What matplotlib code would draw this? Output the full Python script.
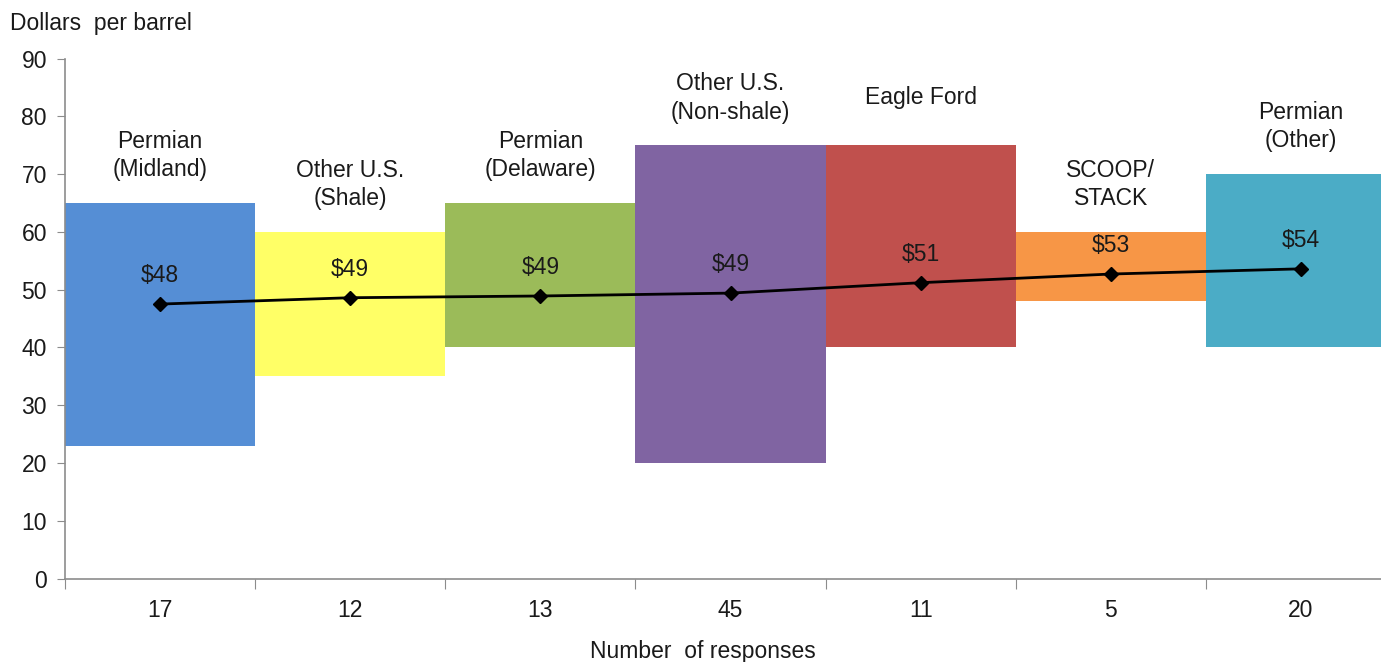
import matplotlib.pyplot as plt
import numpy as np

plt.rcParams['font.family'] = ['Liberation Sans', 'DejaVu Sans']

# price ranges by region (dollars per barrel)
regions = ['Permian\n(Midland)', 'Other U.S.\n(Shale)', 'Permian\n(Delaware)',
           'Other U.S.\n(Non-shale)', 'Eagle Ford', 'SCOOP/\nSTACK', 'Permian\n(Other)']
low = [23, 35, 40, 20, 40, 48, 40]
high = [65, 60, 65, 75, 75, 60, 70]
average = [47.5, 48.6, 48.9, 49.4, 51.2, 52.7, 53.6]
responses = [17, 12, 13, 45, 11, 5, 20]
colors = ['#558ED5', '#FFFF66', '#9BBB59', '#8064A2', '#C0504D', '#F79646', '#4BACC6']

text_col = '#1a1a1a'
axis_col = '#8c8c8c'
fs = 16.5

fig = plt.figure(figsize=(13.81, 6.62), dpi=100)
ax = fig.add_axes([0.0471, 0.1261, 0.9638, 0.7855])

x = np.arange(len(regions))
ax.bar(x, np.array(high) - np.array(low), bottom=low, width=1.0, align='edge',
       color=colors, linewidth=0)
ax.plot(x + 0.5, average, color='black', lw=2, marker='D', markersize=7, zorder=3)

for xi, v in zip(x, average):
    ax.annotate(f'${v:.0f}', (xi + 0.5, v), xytext=(0, 12), textcoords='offset points',
                ha='center', va='bottom', fontsize=fs, color=text_col)

for xi, name, top in zip(x, regions, high):
    ax.text(xi + 0.5, top + 8.2, name, ha='center', va='center', fontsize=fs,
            color=text_col, linespacing=1.3)

ax.set_xlim(0, len(regions))
ax.set_ylim(0, 90)
ax.set_yticks(range(0, 91, 10))

# boundaries get tick marks, counts sit under each bar
ax.set_xticks(np.arange(len(regions) + 1))
ax.set_xticklabels([])
ax.set_xticks(x + 0.5, minor=True)
ax.set_xticklabels([str(r) for r in responses], minor=True)
ax.tick_params(axis='x', which='major', direction='out', length=7, color=axis_col)
ax.tick_params(axis='x', which='minor', length=0, pad=15, labelsize=fs, labelcolor=text_col)
ax.tick_params(axis='y', direction='out', length=6, pad=7, color=axis_col,
               labelsize=fs, labelcolor=text_col)

for side in ['top', 'right']:
    ax.spines[side].set_visible(False)
for side in ['left', 'bottom']:
    ax.spines[side].set_color(axis_col)
    ax.spines[side].set_linewidth(1.2)

fig.text(0.007, 0.965, 'Dollars  per barrel', fontsize=fs, color=text_col, va='center')
fig.text(0.509, 0.016, 'Number  of responses', fontsize=fs, color=text_col,
         ha='center', va='center')

fig.savefig('out.png', dpi=100)
